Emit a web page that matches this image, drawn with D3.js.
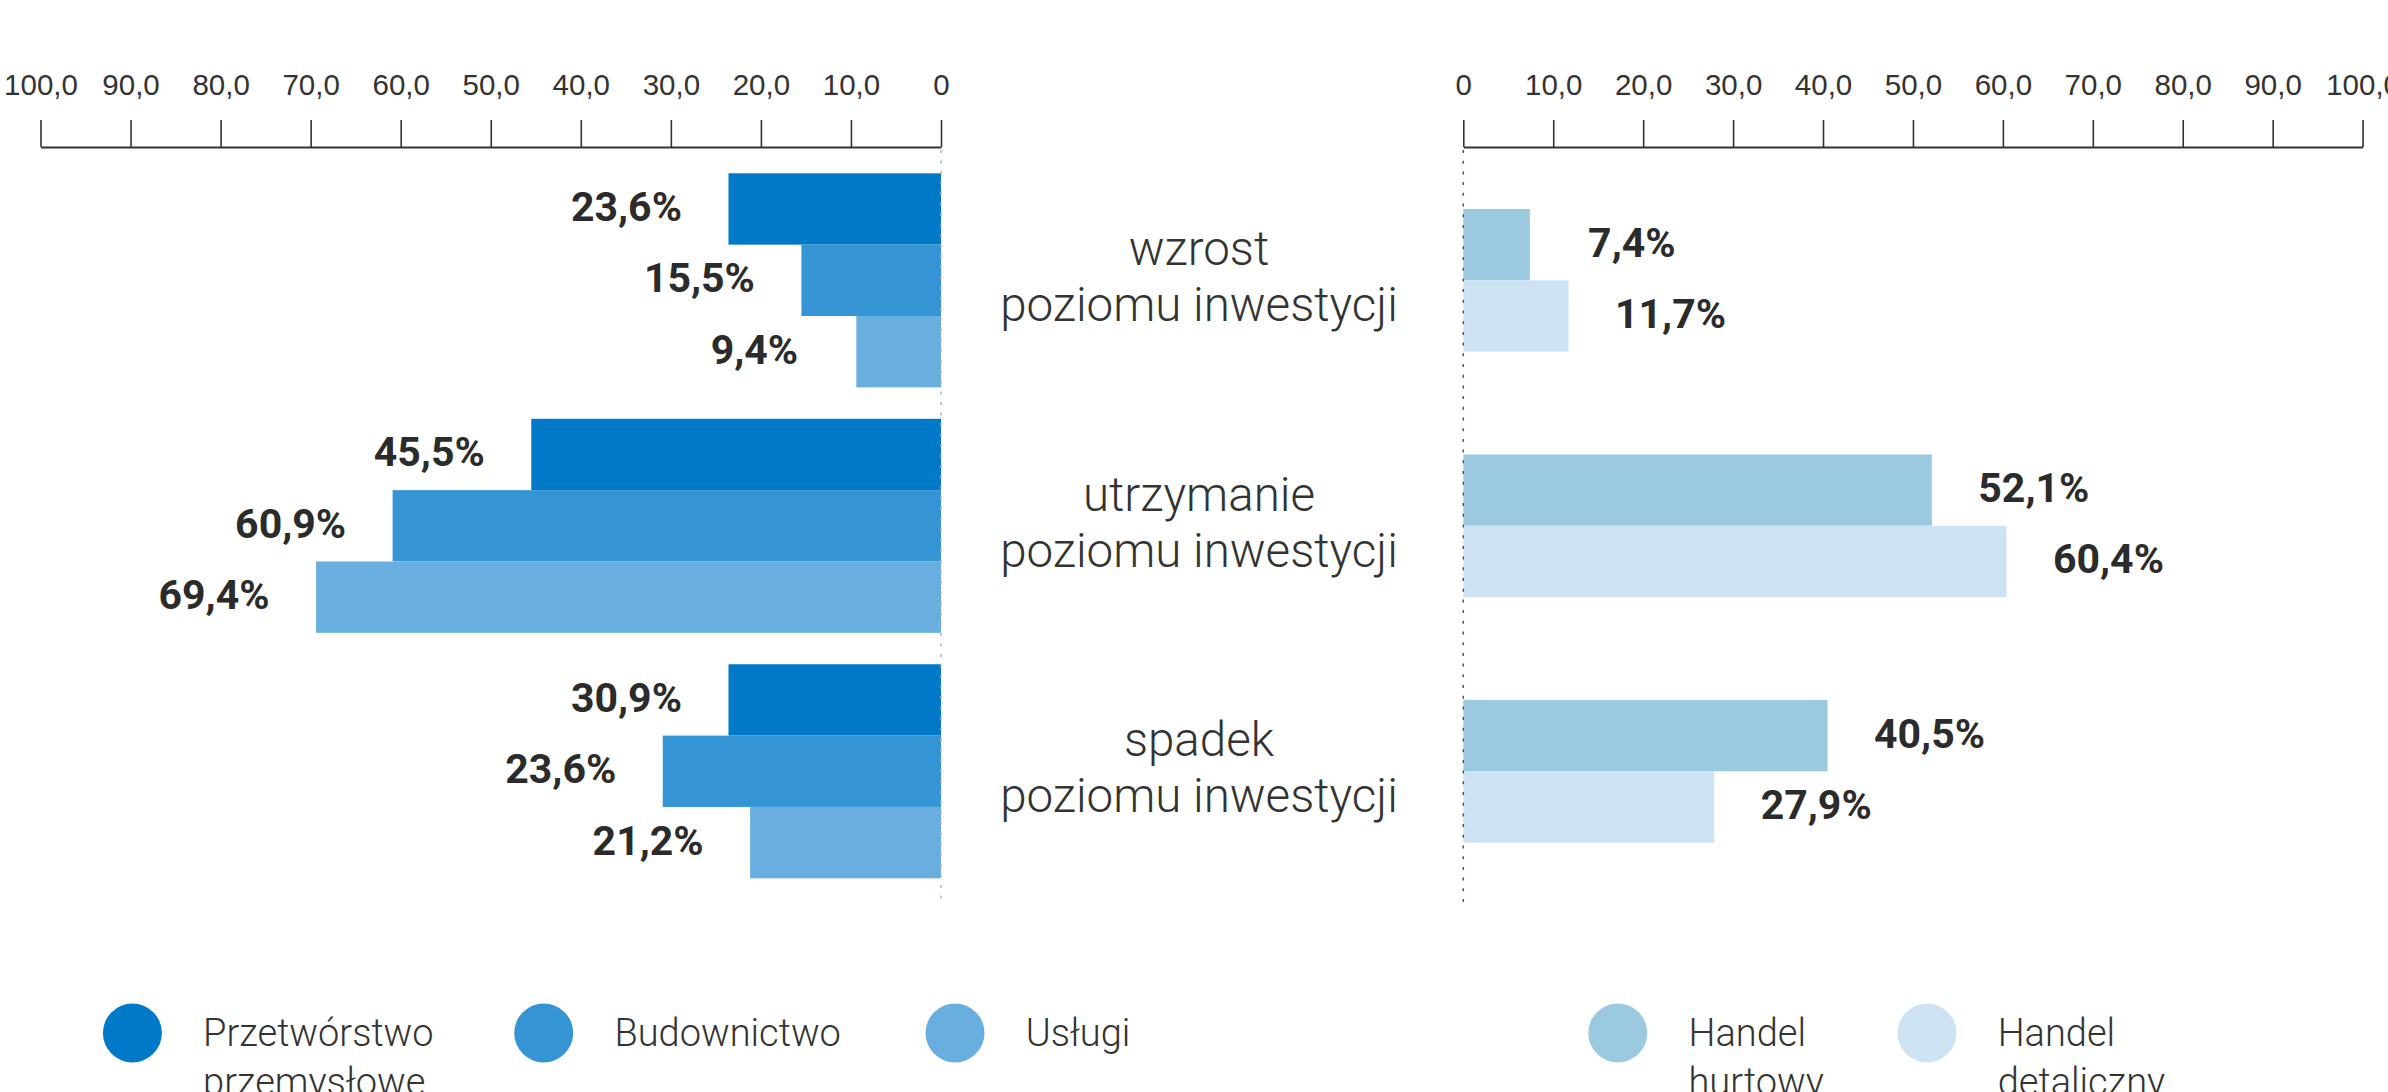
<!DOCTYPE html>
<html>
<head>
<meta charset="utf-8">
<script src="https://cdnjs.cloudflare.com/ajax/libs/d3/7.8.5/d3.min.js"></script>
<style>
    html, body { margin: 0; padding: 0; background: #fff; }
    svg { display: block; font-family: Roboto, "Noto Sans", sans-serif; }
</style>
</head>
<body>
<svg id="chart" width="2388" height="1092"></svg>
<script>
// categories (two lines each)
const categories = [
    ["wzrost", "poziomu inwestycji"],
    ["utrzymanie", "poziomu inwestycji"],
    ["spadek", "poziomu inwestycji"]
];

// bar lengths as drawn in the picture
const przetworstwo = [23.6, 45.5, 23.6];
const budownictwo  = [15.5, 60.9, 30.9];
const uslugi       = [9.4, 69.4, 21.2];
const hurtowy      = [7.4, 52.1, 40.5];
const detaliczny   = [11.7, 60.4, 27.9];

// labels as printed (in the "spadek" row the first two are swapped against the bars)
const przetworstwoLabels = ["23,6%", "45,5%", "30,9%"];
const budownictwoLabels  = ["15,5%", "60,9%", "23,6%"];
const uslugiLabels       = ["9,4%", "69,4%", "21,2%"];
const hurtowyLabels      = ["7,4%", "52,1%", "40,5%"];
const detalicznyLabels   = ["11,7%", "60,4%", "27,9%"];

const leftSeries  = [["Przetwórstwo", "przemysłowe"], ["Budownictwo"], ["Usługi"]];
const rightSeries = [["Handel", "hurtowy"], ["Handel", "detaliczny"]];

const tickValues = [0, 10, 20, 30, 40, 50, 60, 70, 80, 90, 100];

const leftColors  = ["#0079c9", "#3595d4", "#68afdf"];
const rightColors = ["#9bcae0", "#cde3f3"];

const leftData = [przetworstwo, budownictwo, uslugi];
const leftLabels = [przetworstwoLabels, budownictwoLabels, uslugiLabels];
const rightData = [hurtowy, detaliczny];
const rightLabels = [hurtowyLabels, detalicznyLabels];

const svg = d3.select("#chart");

const xLeft  = d3.scaleLinear().domain([0, 100]).range([941, 40.5]);
const xRight = d3.scaleLinear().domain([0, 100]).range([1463.3, 2362.6]);

const y = d3.scaleBand()
    .domain(d3.range(categories.length))
    .range([173.3, 878.3])
    .paddingInner(0.128);
const bh = y.bandwidth() / 3;
const yInL = d3.scaleBand().domain(d3.range(3)).range([0, y.bandwidth()]);
const yInR = d3.scaleBand().domain(d3.range(2)).range([y.bandwidth() / 2 - bh, y.bandwidth() / 2 + bh]);

const fmtTick = d => d === 0 ? "0" : d3.format(".1f")(d).replace(".", ",");

// axes
[xLeft, xRight].forEach(x => {
    const g = svg.append("g")
        .attr("transform", "translate(0,147)")
        .call(d3.axisTop(x)
            .tickValues(tickValues)
            .tickSize(27)
            .tickSizeOuter(0)
            .tickPadding(25)
            .tickFormat(fmtTick));
    g.select(".domain").attr("stroke", "#333").attr("stroke-width", 2);
    g.selectAll(".tick line").attr("stroke", "#333").attr("stroke-width", 1.6);
    g.selectAll(".tick text")
        .attr("fill", "#333")
        .style("font-size", "29.5px")
        .style("font-weight", 300);
});

// left bars
leftData.forEach((series, s) => {
    const g = svg.append("g");
    g.selectAll("rect")
        .data(series)
        .join("rect")
        .attr("x", d => xLeft(d))
        .attr("y", (d, i) => y(i) + yInL(s))
        .attr("width", d => xLeft(0) - xLeft(d))
        .attr("height", yInL.bandwidth())
        .attr("fill", leftColors[s]);
    g.selectAll("text")
        .data(series)
        .join("text")
        .attr("x", d => xLeft(d) - 102)
        .attr("y", (d, i) => y(i) + yInL(s) + yInL.bandwidth() / 2 + 12)
        .attr("text-anchor", "middle")
        .attr("fill", "#2b2b2b")
        .style("font-size", "41px")
        .style("font-weight", 700)
        .text((d, i) => leftLabels[s][i]);
});

// right bars
rightData.forEach((series, s) => {
    const g = svg.append("g");
    g.selectAll("rect")
        .data(series)
        .join("rect")
        .attr("x", xRight(0))
        .attr("y", (d, i) => y(i) + yInR(s))
        .attr("width", d => xRight(d) - xRight(0))
        .attr("height", yInR.bandwidth())
        .attr("fill", rightColors[s]);
    g.selectAll("text")
        .data(series)
        .join("text")
        .attr("x", d => xRight(d) + 102)
        .attr("y", (d, i) => y(i) + yInR(s) + yInR.bandwidth() / 2 + 12)
        .attr("text-anchor", "middle")
        .attr("fill", "#2b2b2b")
        .style("font-size", "41px")
        .style("font-weight", 700)
        .text((d, i) => rightLabels[s][i]);
});

// dotted zero lines
svg.append("line")
    .attr("x1", xLeft(0)).attr("x2", xLeft(0))
    .attr("y1", 150).attr("y2", 906)
    .attr("stroke", "#b5b5b5").attr("stroke-width", 1.5)
    .attr("stroke-dasharray", "3,7.5");
svg.append("line")
    .attr("x1", xRight(0)).attr("x2", xRight(0))
    .attr("y1", 150).attr("y2", 906)
    .attr("stroke", "#555").attr("stroke-width", 1.5)
    .attr("stroke-dasharray", "3,7.7");

// category labels
const cat = svg.append("g")
    .selectAll("text")
    .data(categories)
    .join("text")
    .attr("text-anchor", "middle")
    .attr("fill", "#333")
    .style("font-size", "47.5px")
    .style("font-weight", 300);
cat.selectAll("tspan")
    .data(d => d)
    .join("tspan")
    .attr("x", 1199)
    .attr("y", function(d, i) {
        const gi = categories.indexOf(d3.select(this.parentNode).datum());
        return y(gi) + y.bandwidth() / 2 + (i === 0 ? -15 : 41);
    })
    .text(d => d);

// legends
function legend(items, colors, x0, step) {
    const g = svg.append("g")
        .selectAll("g")
        .data(items)
        .join("g")
        .attr("transform", (d, i) => `translate(${x0 + i * step},1033)`);
    g.append("circle")
        .attr("r", 29.5)
        .attr("fill", (d, i) => colors[i]);
    g.append("text")
        .attr("fill", "#333")
        .style("font-size", "38px")
        .style("font-weight", 300)
        .selectAll("tspan")
        .data(d => d)
        .join("tspan")
        .attr("x", 70.7)
        .attr("y", (d, i) => 12.7 + i * 49)
        .text(d => d);
}
legend(leftSeries, leftColors, 132.4, 411.3);
legend(rightSeries, rightColors, 1617.8, 309.2);
</script>
</body>
</html>
